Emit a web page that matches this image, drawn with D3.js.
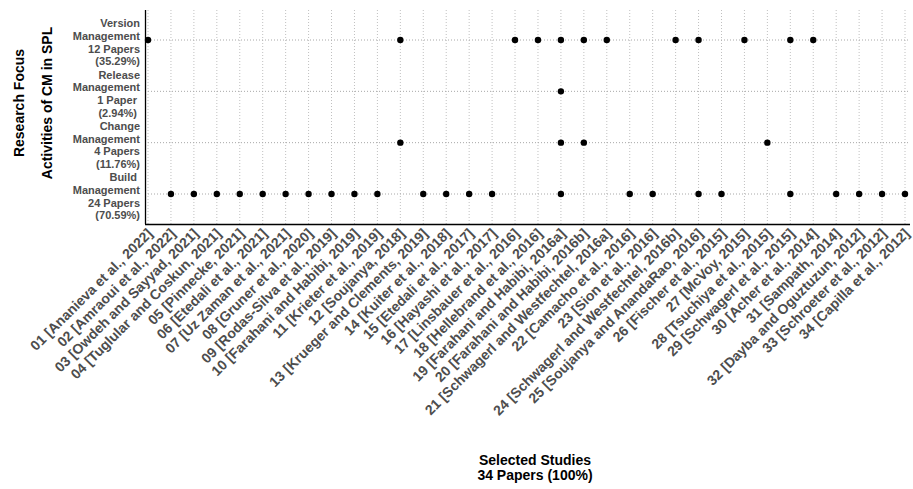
<!DOCTYPE html>
<html>
<head>
<meta charset="utf-8">
<script src="https://cdn.jsdelivr.net/npm/d3@7"></script>
<style>
  body { margin:0; background:#fff; }
  text { font-family:"Liberation Sans", Arial, sans-serif; font-weight:bold; }
</style>
</head>
<body>
<script>
// studies on the x axis
let studies = ["01 [Ananieva et al., 2022]","02 [Amraoui et al., 2022]","03 [Owdeh and Sayyad, 2021]",
  "04 [Tuglular and Coskun, 2021]","05 [Pinnecke, 2021]","06 [Etedali et al., 2021]","07 [Uz Zaman et al., 2021]",
  "08 [Gruner et al., 2020]","09 [Rodas-Silva et al., 2019]","10 [Farahani and Habibi, 2019]","11 [Krieter et al., 2019]",
  "12 [Soujanya, 2018]","13 [Krueger and Clements, 2019]","14 [Kuiter et al., 2018]","15 [Etedali et al., 2017]",
  "16 [Hayashi et al., 2017]","17 [Linsbauer et al., 2016]","18 [Hellebrand et al., 2016]","19 [Farahani and Habibi, 2016a]",
  "20 [Farahani and Habibi, 2016b]","21 [Schwagerl and Westfechtel, 2016a]","22 [Camacho et al., 2016]","23 [Sion et al., 2016]",
  "24 [Schwagerl and Westfechtel, 2016b]","25 [Soujanya and AnandaRao, 2016]","26 [Fischer et al., 2015]","27 [McVoy, 2015]",
  "28 [Tsuchiya et al., 2015]","29 [Schwagerl et al., 2015]","30 [Acher et al., 2014]","31 [Sampath, 2014]",
  "32 [Dayba and Oguztuzun, 2012]","33 [Schroeter et al., 2012]","34 [Capilla et al., 2012]"];

// research focus rows (top to bottom) and which study numbers fall in each
let focusNames = ["Version Management","Release Management","Change Management","Build Management"];
let focusLines = [["Version","Management"],["Release","Management"],["Change","Management"],["Build ","Management"]];
let versionStudies = [1,12,17,18,19,20,21,24,25,27,29,30];
let releaseStudies = [19];
let changeStudies = [12,19,20,28];
let buildStudies = [2,3,4,5,6,7,8,9,10,11,13,14,15,16,19,22,23,25,26,29,31,32,33,34];
let focusStudies = [versionStudies,releaseStudies,changeStudies,buildStudies];

let svg = d3.select("body").append("svg").attr("width",913).attr("height",489);

let margin = {left:145,top:10};
let width = 765;
let height = 214;

let x = d3.scalePoint().domain(studies).range([3,760]);
let y = d3.scalePoint().domain(focusNames).range([30,184]);

let chartGroup = svg.append("g")
                    .attr("transform","translate("+margin.left+","+margin.top+")");

// grid
chartGroup.append("g").selectAll("line.vg")
          .data(studies).enter().append("line")
          .attr("x1",(d)=>x(d)).attr("x2",(d)=>x(d))
          .attr("y1",0).attr("y2",height)
          .attr("stroke","#c0c0c0").attr("stroke-width",1)
          .attr("stroke-dasharray","1,2");

chartGroup.append("g").selectAll("line.hg")
          .data(focusNames).enter().append("line")
          .attr("x1",0).attr("x2",width)
          .attr("y1",(d)=>y(d)).attr("y2",(d)=>y(d))
          .attr("stroke","#a8a8a8").attr("stroke-width",1)
          .attr("stroke-dasharray","1,2");

// points
let points = [];
focusStudies.forEach((list,i)=>{
  list.forEach((n)=>points.push({focus:focusNames[i],study:studies[n-1]}));
});

chartGroup.selectAll("circle")
          .data(points).enter().append("circle")
          .attr("cx",(d)=>x(d.study))
          .attr("cy",(d)=>y(d.focus))
          .attr("r",3.2)
          .attr("fill","#000");

// axes
let xAxis = d3.axisBottom(x).tickSize(0).tickPadding(0);
let yAxis = d3.axisLeft(y).tickSize(0).tickFormat("");

let gx = chartGroup.append("g").attr("class","axis x")
                   .attr("transform","translate(0,"+height+")").call(xAxis);
gx.select(".domain").attr("stroke","#000").attr("stroke-width",1.3).attr("d","M0,0.5H"+width);
gx.selectAll("text")
  .attr("y",null).attr("dy","0.74em")
  .attr("transform","translate(-2.5,3) rotate(-45)")
  .attr("text-anchor","end")
  .attr("fill","#4d4d4d")
  .style("font-size","14px");

let gy = chartGroup.append("g").attr("class","axis y").call(yAxis);
gy.select(".domain").attr("stroke","#000").attr("stroke-width",1.3).attr("d","M0.5,0V"+height);

// multi-line y labels
focusNames.forEach((name,i)=>{
  let n = focusStudies[i].length;
  let lines = focusLines[i].concat([n+(n==1?" Paper ":" Papers"),
               "("+(n/studies.length*100).toFixed(2)+"%)"+(n==1?" ":"")]);
  let t = chartGroup.append("text")
            .attr("x",-5)
            .attr("y",y(name)+2.5-12.6*1.5)
            .attr("text-anchor","end")
            .attr("fill","#4d4d4d")
            .style("font-size","11px")
            .style("white-space","pre");
  lines.forEach((l,j)=>{
    t.append("tspan").attr("x",-5).attr("dy",j==0?"0.35em":12.6).text(l);
  });
});

// axis titles
svg.append("text")
   .attr("transform","translate(19,103) rotate(-90)")
   .attr("text-anchor","middle").attr("dy","0.35em")
   .style("font-size","14px").text("Research Focus");
svg.append("text")
   .attr("transform","translate(47,103) rotate(-90)")
   .attr("text-anchor","middle").attr("dy","0.35em")
   .style("font-size","14px").text("Activities of CM in SPL");

svg.append("text").attr("x",535).attr("y",465)
   .attr("text-anchor","middle").style("font-size","14px").text("Selected Studies");
svg.append("text").attr("x",535).attr("y",480)
   .attr("text-anchor","middle").style("font-size","14px")
   .text(studies.length+" Papers (100%)");
</script>
</body>
</html>
